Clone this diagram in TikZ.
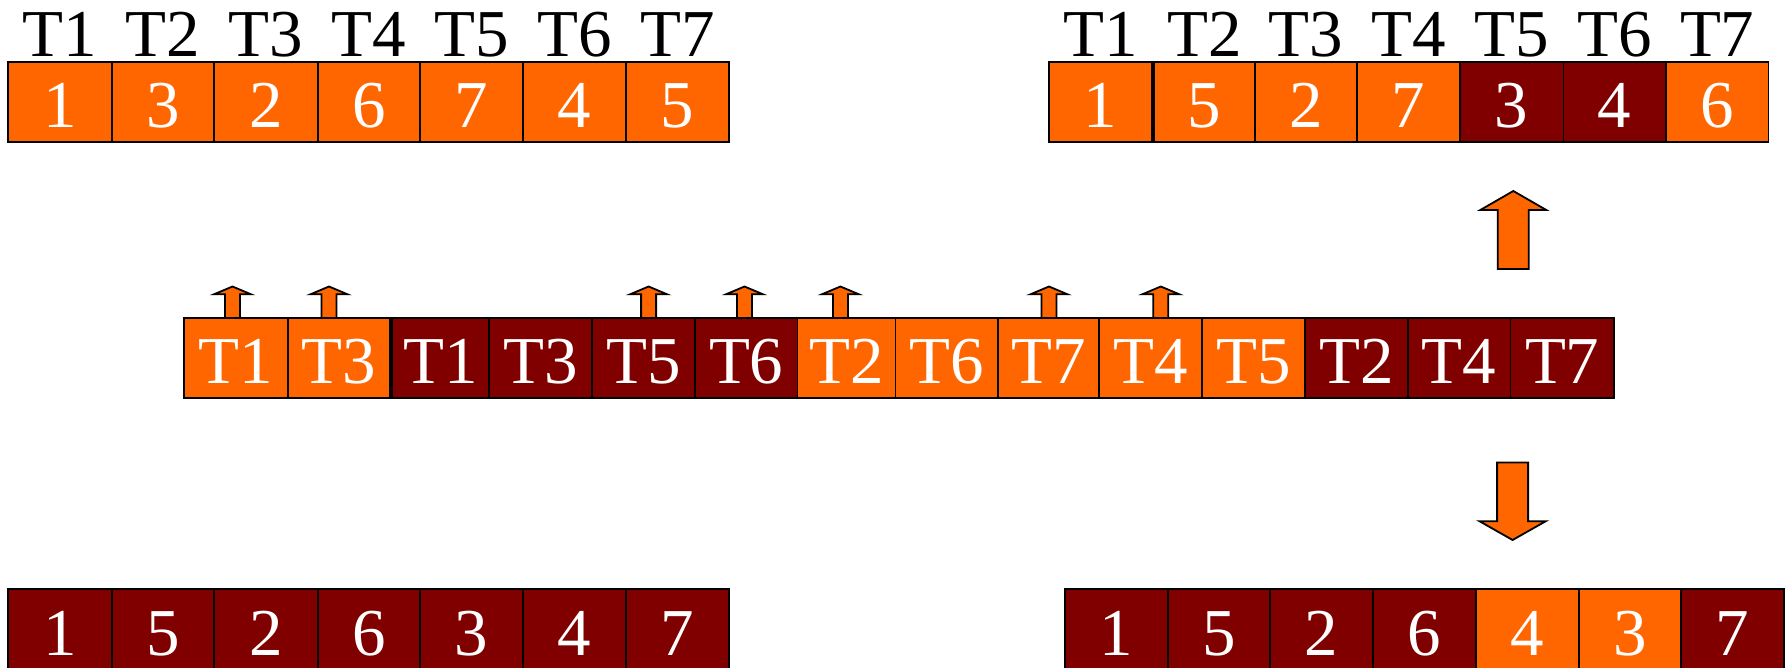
\documentclass[tikz,border=0pt]{standalone}
\usepackage{fontspec}
\setmainfont{Liberation Serif}
\definecolor{orangec}{RGB}{255,102,0}
\definecolor{darkc}{RGB}{128,0,0}
\newcommand{\bigfont}{\fontsize{67pt}{70pt}\selectfont}
\begin{document}
\begin{tikzpicture}[x=1pt,y=-1pt,
  cellbox/.style={draw=black,line width=1.8pt,inner sep=0pt,minimum height=80pt,
    text height=52pt,text depth=0pt,text=white,font=\bigfont},
  org/.style={fill=orangec},
  drk/.style={fill=darkc},
  toplabel/.style={anchor=base,inner sep=0pt,font=\bigfont,text=black},
  arr/.style={draw=black,line width=1.8pt,fill=orangec,line join=miter}]
\useasboundingbox (0,0) rectangle (1788,668);
\clip (0,0) rectangle (1788,668);

% small arrows above middle row
\foreach \x [count=\k] in {232.5,329,648.6,744.5,840.4,1049,1160.8}
  \draw[arr] (\x-7.5,317.7) -- (\x-7.5,294.3) -- (\x-18.5,294.3) -- (\x,286.5)
    -- (\x+18.5,294.3) -- (\x+7.5,294.3) -- (\x+7.5,317.7);

% big up arrow
\draw[arr] (1513.3-15.5,269) -- (1513.3-15.5,210) -- (1513.3-33,210) -- (1513.3,191)
  -- (1513.3+33,210) -- (1513.3+15.5,210) -- (1513.3+15.5,269) -- cycle;
% big down arrow
\draw[arr] (1512.6-15.5,462.5) -- (1512.6-15.5,521.3) -- (1512.6-33,521.3) -- (1512.6,540)
  -- (1512.6+33,521.3) -- (1512.6+15.5,521.3) -- (1512.6+15.5,462.5) -- cycle;

% top-left row
\foreach \l/\r/\v/\c [count=\i] in {8.3/111.7/1/org,111.7/214/3/org,214/317.6/2/org,
    317.6/420/6/org,420/522.9/7/org,522.9/626.2/4/org,626.2/729.1/5/org}
{
  \node[cellbox,\c,minimum width={(\r-\l)*1pt}] (a\i) at ({(\l+\r)/2},101.7) {\v};
  \node[toplabel] (at\i) at ({(\l+\r)/2},56.7) {T\i};
}

% top-right row
\foreach \l/\r/\v/\c [count=\i] in {1049/1152.3/1/org,1154.3/1255/5/org,1255/1357.3/2/org,
    1357.3/1459.8/7/org,1459.8/1563.4/3/drk,1563.4/1666/4/drk,1666/1768.5/6/org}
{
  \node[cellbox,\c,minimum width={(\r-\l)*1pt}] (b\i) at ({(\l+\r)/2},101.7) {\v};
  \node[toplabel] (bt\i) at ({(\l+\r)/2},56.7) {T\i};
}

% middle row
\foreach \l/\r/\v/\c [count=\i] in {184.3/287.7/T1/org,287.7/390.3/T3/org,
    392/489/T1/drk,489/592/T3/drk,592/695/T5/drk,695/797.5/T6/drk,
    797.5/895.5/T2/org,895.5/998.3/T6/org,998.3/1099.3/T7/org,1099.3/1202.3/T4/org,
    1202.3/1305/T5/org,1305/1407.8/T2/drk,1407.8/1510.4/T4/drk,1510.4/1614/T7/drk}
{
  \node[cellbox,\c,minimum width={(\r-\l)*1pt}] (m\i) at ({(\l+\r)/2},357.7) {\v};
}

% bottom-left row
\foreach \l/\r/\v/\c [count=\i] in {8.3/111.7/1/drk,111.7/214/5/drk,214/317.6/2/drk,
    317.6/420/6/drk,420/522.9/3/drk,522.9/626.2/4/drk,626.2/729.1/7/drk}
{
  \node[cellbox,\c,minimum width={(\r-\l)*1pt}] (c\i) at ({(\l+\r)/2},629.3) {\v};
}

% bottom-right row
\foreach \l/\r/\v/\c [count=\i] in {1064.6/1167.7/1/drk,1167.7/1269.8/5/drk,1269.8/1372.9/2/drk,
    1372.9/1476/6/drk,1476/1579/4/org,1579/1681.2/3/org,1681.2/1784.2/7/drk}
{
  \node[cellbox,\c,minimum width={(\r-\l)*1pt}] (d\i) at ({(\l+\r)/2},629.3) {\v};
}
\end{tikzpicture}
\end{document}
